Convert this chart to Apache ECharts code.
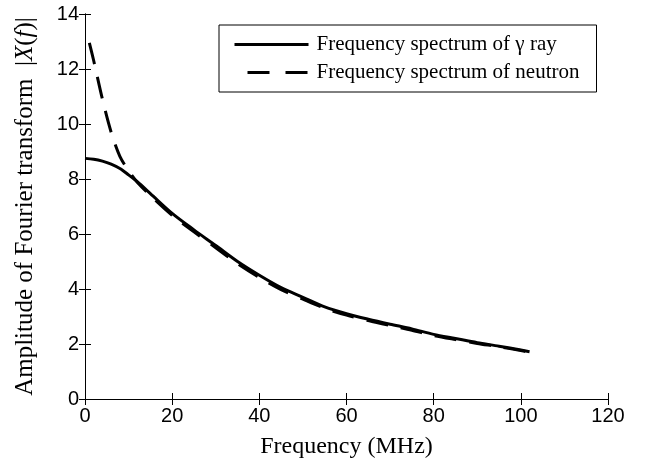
<!DOCTYPE html>
<html>
<head>
<meta charset="utf-8">
<script src="https://cdn.jsdelivr.net/npm/echarts@6/dist/echarts.min.js"></script>
<style>
  html, body { margin: 0; padding: 0; background: #fff; }
  #chart { width: 649px; height: 468px; }
</style>
</head>
<body>
<div id="chart"></div>
<script>
// values
const freqGamma = [0, 2, 4, 6, 8, 10, 12, 15, 20, 25, 30, 35, 40, 45, 50, 55, 60, 65, 70, 75, 80, 85, 90, 95, 100, 102];
const ampGamma = [8.75, 8.72, 8.65, 8.54, 8.38, 8.15, 7.9, 7.47, 6.75, 6.15, 5.58, 5.0, 4.5, 4.05, 3.7, 3.35, 3.1, 2.9, 2.72, 2.55, 2.35, 2.2, 2.05, 1.92, 1.78, 1.72];

const freqNeutron = [1, 2, 4, 6, 8, 10, 12, 15, 20, 25, 30, 35, 40, 45, 50, 55, 60, 65, 70, 75, 80, 85, 90, 95, 100, 102];
const ampNeutron = [12.95, 12.3, 10.9, 9.7, 8.82, 8.3, 7.88, 7.4, 6.68, 6.08, 5.5, 4.92, 4.42, 3.98, 3.63, 3.3, 3.05, 2.85, 2.67, 2.5, 2.31, 2.16, 2.02, 1.9, 1.76, 1.7];

const xTicks = [0, 20, 40, 60, 80, 100, 120];
const yTicks = [0, 2, 4, 6, 8, 10, 12, 14];

const seriesNames = ["Frequency spectrum of \u03b3 ray", "Frequency spectrum of neutron"];

const zip = (xs, ys) => xs.map((x, i) => [x, ys[i]]);

const chart = echarts.init(document.getElementById("chart"));

const tickFont = { fontFamily: "Liberation Sans", fontSize: 20, color: "#000" };
const axisLine = { show: true, lineStyle: { color: "#000", width: 1 } };
const tick = { show: true, inside: true, length: 6, lineStyle: { color: "#000" } };

const option = {
  animation: false,
  grid: { left: 85, right: 41, top: 14, bottom: 69 },
  legend: {
    orient: "vertical",
    left: 219,
    top: 25,
    padding: [9, 17, 9, 14],
    itemWidth: 74,
    itemHeight: 20,
    itemGap: 7,
    borderColor: "#000",
    borderWidth: 1,
    backgroundColor: "#fff",
    itemStyle: { opacity: 0 },
    lineStyle: { width: 3 },
    textStyle: { fontFamily: "Liberation Serif", fontSize: 21, color: "#000", padding: [0, 0, 0, 3] },
    data: [
      { name: seriesNames[0] },
      { name: seriesNames[1], lineStyle: { width: 3, type: [22, 16], dashOffset: 25 } },
    ],
  },
  xAxis: [
    {
      type: "value",
      min: xTicks[0],
      max: xTicks[xTicks.length - 1],
      interval: 20,
      name: "Frequency (MHz)",
      nameLocation: "middle",
      nameGap: 36,
      nameTextStyle: { fontFamily: "Liberation Serif", fontSize: 24, color: "#000" },
      axisLine: axisLine,
      axisTick: tick,
      axisLabel: Object.assign({ margin: 7 }, tickFont),
      splitLine: { show: false },
    },
    {
      type: "value",
      position: "top",
      min: xTicks[0],
      max: xTicks[xTicks.length - 1],
      interval: 20,
      axisLine: axisLine,
      axisTick: tick,
      axisLabel: { show: false },
      splitLine: { show: false },
    },
  ],
  yAxis: [
    {
      type: "value",
      min: yTicks[0],
      max: yTicks[yTicks.length - 1],
      interval: 2,
      name: "Amplitude of Fourier transform  |{i|X}({i|f})|",
      nameLocation: "middle",
      nameGap: 47,
      nameTextStyle: {
        fontFamily: "Liberation Serif",
        fontSize: 25,
        color: "#000",
        rich: {
          i: { fontFamily: "Liberation Serif", fontSize: 25, fontStyle: "italic", color: "#000" },
        },
      },
      axisLine: axisLine,
      axisTick: tick,
      axisLabel: Object.assign({ margin: 6 }, tickFont),
      splitLine: { show: false },
    },
    {
      type: "value",
      position: "right",
      min: yTicks[0],
      max: yTicks[yTicks.length - 1],
      interval: 2,
      axisLine: axisLine,
      axisTick: tick,
      axisLabel: { show: false },
      splitLine: { show: false },
    },
  ],
  series: [
    {
      name: seriesNames[0],
      type: "line",
      data: zip(freqGamma, ampGamma),
      smooth: 0.3,
      symbol: "none",
      lineStyle: { color: "#000", width: 3 },
      itemStyle: { color: "#000" },
    },
    {
      name: seriesNames[1],
      type: "line",
      data: zip(freqNeutron, ampNeutron),
      smooth: 0.3,
      symbol: "none",
      lineStyle: { color: "#000", width: 3, type: [22, 13] },
      itemStyle: { color: "#000" },
    },
  ],
};

chart.setOption(option);
</script>
</body>
</html>
